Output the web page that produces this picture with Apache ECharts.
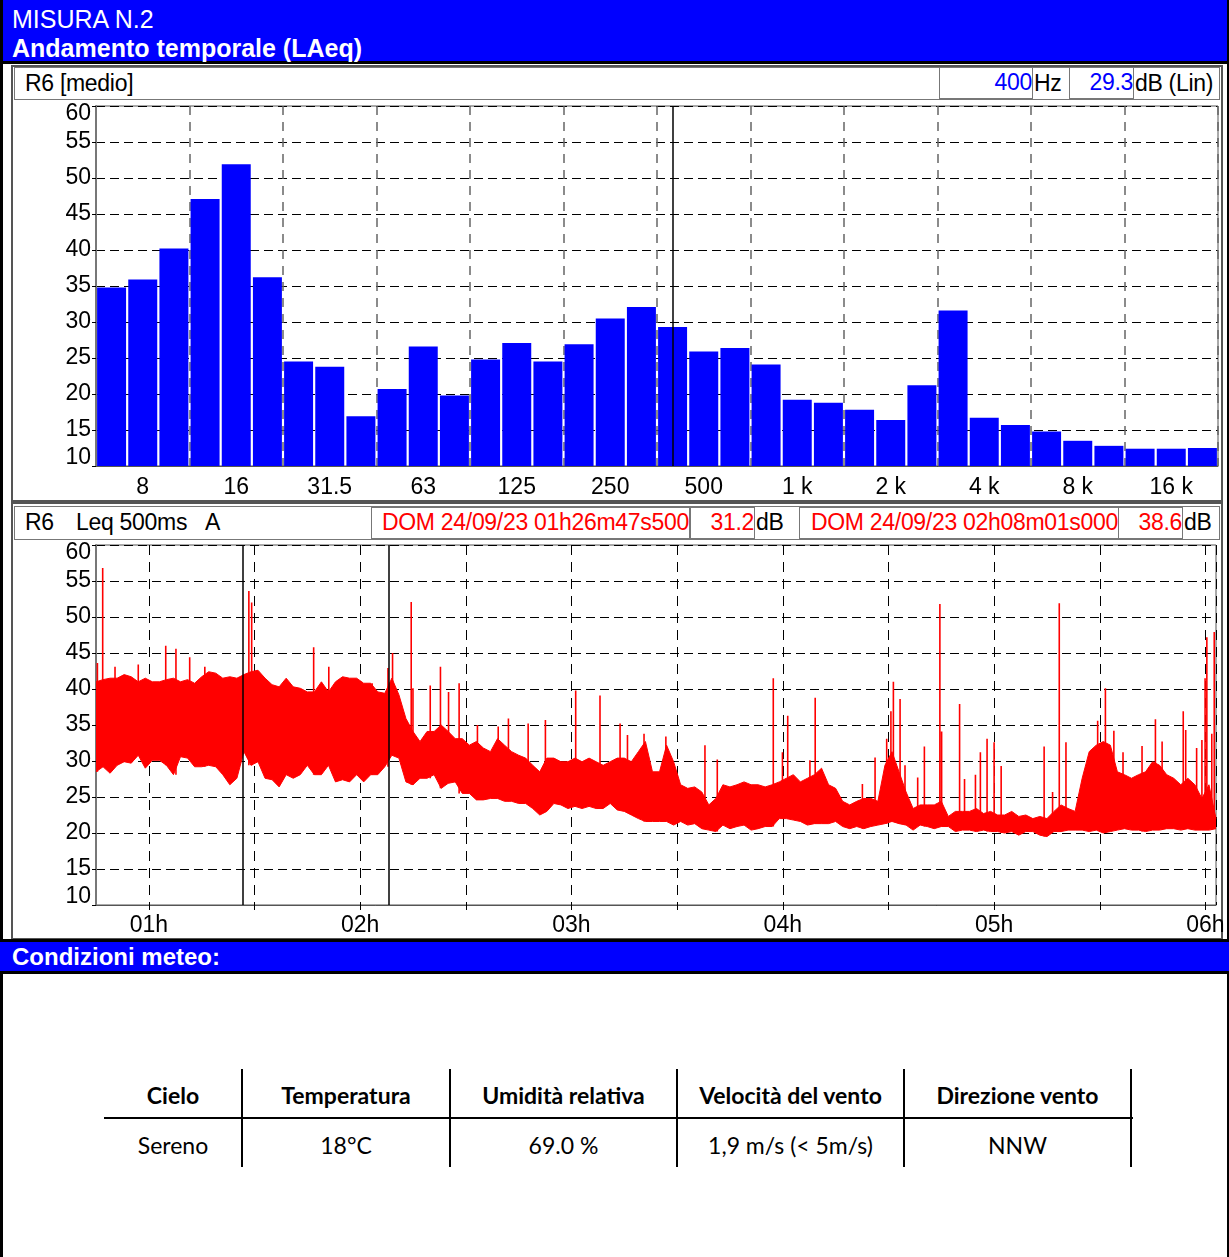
<!DOCTYPE html>
<html>
<head>
<meta charset="utf-8">
<title>MISURA N.2</title>
<script src="https://cdn.jsdelivr.net/npm/echarts@6/dist/echarts.min.js"></script>
<style>
  body { margin: 0; background: #fff; font-family: "Liberation Sans", Arial, sans-serif; }
  #page { position: relative; width: 1229px; height: 1257px; overflow: hidden; }
  .abs { position: absolute; box-sizing: border-box; }
  .txt { position: absolute; white-space: nowrap; font-size: 23px; line-height: 31px; letter-spacing: -0.3px; }
  .box { position: absolute; box-sizing: border-box; border: 1px solid #777; text-align: right;
         font-size: 23px; line-height: 29px; white-space: nowrap; letter-spacing: -0.3px; }
  .cell { position: absolute; text-align: center; font-family: Lato, "Open Sans", sans-serif; font-size: 23px; line-height: 30px; }
  #chart { position: absolute; left: 0; top: 0; width: 1229px; height: 1257px; }
</style>
</head>
<body>
<div id="page">
  <!-- cornice pagina e intestazione -->
  <div class="abs" style="left:0;top:0;width:1229px;height:61px;background:#0000FF"></div>
  <div class="abs" style="left:0;top:61px;width:1229px;height:3px;background:#000"></div>
  <div class="abs" style="left:0;top:0;width:3px;height:1257px;background:#000"></div>
  <div class="abs" style="left:1227px;top:0;width:2px;height:1257px;background:#000"></div>
  <div class="txt" style="left:12px;top:4px;color:#fff;font-size:25px;letter-spacing:0">MISURA N.2</div>
  <div class="txt" style="left:12px;top:33px;color:#fff;font-size:25px;font-weight:bold;letter-spacing:0">Andamento temporale (LAeq)</div>

  <!-- pannello spettro -->
  <div class="abs" style="left:11px;top:65px;width:1212px;height:437px;border:2px solid #555"></div>
  <div class="abs" style="left:14px;top:67px;width:1206px;height:33px;border:1px solid #777"></div>
  <div class="txt" style="left:25px;top:68px">R6 [medio]</div>
  <div class="box" style="left:939px;top:67px;width:94px;height:32px;color:#0000FF">400</div>
  <div class="txt" style="left:1034px;top:68px">Hz</div>
  <div class="box" style="left:1069px;top:67px;width:65px;height:32px;color:#0000FF">29.3</div>
  <div class="txt" style="left:1135px;top:68px">dB (Lin)</div>

  <!-- pannello andamento temporale -->
  <div class="abs" style="left:11px;top:502px;width:1212px;height:438px;border:2px solid #555"></div>
  <div class="abs" style="left:14px;top:506px;width:1206px;height:34px;border:1px solid #777"></div>
  <div class="txt" style="left:25px;top:507px">R6</div>
  <div class="txt" style="left:76px;top:507px">Leq 500ms</div>
  <div class="txt" style="left:205px;top:507px">A</div>
  <div class="box" style="left:371px;top:507px;width:319px;height:32px;color:#FF0000">DOM 24/09/23 01h26m47s500</div>
  <div class="box" style="left:690px;top:507px;width:65px;height:32px;color:#FF0000">31.2</div>
  <div class="txt" style="left:756px;top:507px">dB</div>
  <div class="box" style="left:799px;top:507px;width:320px;height:32px;color:#FF0000">DOM 24/09/23 02h08m01s000</div>
  <div class="box" style="left:1118px;top:507px;width:65px;height:32px;color:#FF0000">38.6</div>
  <div class="txt" style="left:1184px;top:507px">dB</div>

  <!-- condizioni meteo -->
  <div class="abs" style="left:0;top:939px;width:1229px;height:35px;background:#0000FF;border-top:3px solid #000;border-bottom:3px solid #000"></div>
  <div class="txt" style="left:12px;top:941px;color:#fff;font-size:24px;font-weight:bold;letter-spacing:0">Condizioni meteo:</div>

  <div class="abs" style="left:104px;top:1117px;width:1029px;height:2px;background:#000"></div>
  <div class="abs" style="left:241px;top:1069px;width:2px;height:98px;background:#000"></div>
  <div class="abs" style="left:449px;top:1069px;width:2px;height:98px;background:#000"></div>
  <div class="abs" style="left:676px;top:1069px;width:2px;height:98px;background:#000"></div>
  <div class="abs" style="left:903px;top:1069px;width:2px;height:98px;background:#000"></div>
  <div class="abs" style="left:1130px;top:1069px;width:2px;height:98px;background:#000"></div>
  <div id="meteo"></div>

  <div id="chart"></div>
</div>

<script>
  // --- spettro medio in terzi d'ottava ---
  const bandLabels = ['6.3', '8', '10', '12.5', '16', '20', '25', '31.5', '40', '50', '63', '80',
    '100', '125', '160', '200', '250', '315', '400', '500', '630', '800', '1 k', '1.25 k',
    '1.6 k', '2 k', '2.5 k', '3.15 k', '4 k', '5 k', '6.3 k', '8 k', '10 k', '12.5 k', '16 k', '20 k'];
  const bandLevels = [34.8, 35.9, 40.2, 47.1, 51.9, 36.2, 24.5, 23.8, 16.9, 20.7, 26.6, 19.8,
    24.8, 27.1, 24.5, 26.9, 30.5, 32.1, 29.3, 25.9, 26.4, 24.1, 19.2, 18.8,
    17.8, 16.4, 21.2, 31.6, 16.7, 15.7, 14.8, 13.5, 12.8, 12.4, 12.4, 12.5];
  const cursorBand = '400';

  // --- Leq 500ms: inviluppo (max / min) ogni 2 minuti dalle 00:45 ---
  const startTime = new Date(2023, 8, 24, 0, 45, 0).getTime();
  const endMinute = 318;
  const stepMinutes = 2;
  const leqHigh = [
    41.0, 41.3, 41.5, 41.5, 42.0, 41.7, 41.0, 41.5, 41.0, 41.0,
    41.3, 41.5, 41.0, 41.3, 40.8, 41.7, 42.4, 42.2, 41.5, 41.7,
    41.5, 42.0, 42.4, 42.6, 41.5, 40.6, 40.3, 41.5, 40.3, 40.1,
    39.6, 39.6, 41.0, 39.6, 41.0, 41.7, 41.5, 41.5, 40.8, 40.8,
    39.6, 39.4, 41.5, 39.2, 35.9, 34.1, 32.7, 34.1, 34.1, 35.0,
    34.1, 33.1, 33.1, 32.2, 32.7, 31.8, 31.3, 33.1, 32.2, 31.3,
    30.8, 30.4, 29.4, 28.5, 30.4, 30.4, 29.9, 29.9, 30.4, 29.9,
    30.4, 29.9, 29.4, 29.9, 30.4, 30.4, 29.9, 31.3, 32.7, 28.5,
    28.5, 32.2, 29.9, 26.7, 26.2, 26.4, 25.7, 23.9, 24.8, 26.7,
    26.4, 26.7, 27.1, 26.7, 26.7, 26.4, 26.7, 27.1, 27.6, 28.1,
    27.1, 27.6, 28.1, 29.0, 26.7, 26.2, 24.4, 23.9, 24.4, 24.8,
    24.8, 24.4, 29.4, 31.3, 28.5, 25.7, 23.4, 23.9, 23.9, 23.9,
    24.4, 22.3, 23.0, 23.0, 23.0, 23.4, 22.7, 23.0, 22.5, 22.5,
    23.0, 22.3, 22.5, 22.0, 22.3, 22.0, 23.0, 23.9, 23.4, 23.0,
    27.6, 31.3, 32.2, 32.7, 32.2, 28.5, 28.1, 27.6, 28.1, 28.5,
    29.9, 29.4, 28.1, 27.6, 26.7, 27.6, 26.7, 24.8, 26.7, 22.0
  ];
  const leqLow = [
    28.5, 29.2, 28.3, 29.4, 29.9, 29.7, 30.8, 29.0, 30.1, 30.1,
    29.4, 28.1, 30.6, 30.4, 29.2, 29.2, 29.4, 29.2, 28.1, 26.7,
    27.6, 31.3, 29.4, 29.9, 27.6, 27.4, 26.4, 28.1, 27.6, 28.1,
    29.4, 28.1, 28.1, 29.4, 27.1, 27.4, 27.1, 28.1, 27.1, 28.1,
    28.1, 29.2, 30.8, 30.4, 27.1, 26.7, 27.6, 27.6, 28.1, 26.2,
    26.9, 27.1, 25.5, 25.5, 24.6, 24.6, 24.8, 24.8, 24.4, 24.4,
    24.1, 24.1, 23.4, 22.5, 23.0, 24.1, 23.9, 23.4, 23.7, 23.4,
    23.7, 23.4, 23.4, 24.1, 23.2, 23.0, 22.5, 22.0, 21.6, 21.6,
    21.6, 21.6, 21.1, 21.6, 21.1, 21.3, 20.6, 20.4, 20.2, 21.1,
    20.6, 20.9, 21.1, 20.4, 20.6, 20.9, 20.9, 22.0, 22.0, 21.8,
    21.6, 21.1, 21.3, 21.3, 21.3, 21.6, 20.9, 20.6, 20.9, 20.6,
    20.9, 21.1, 21.3, 21.6, 21.3, 21.1, 20.4, 21.1, 20.9, 20.6,
    20.9, 20.9, 20.2, 20.4, 20.4, 20.2, 20.4, 20.2, 20.2, 20.0,
    20.2, 19.7, 20.2, 20.2, 19.7, 19.5, 20.2, 20.2, 20.4, 20.4,
    20.4, 20.2, 20.4, 20.0, 20.2, 20.4, 20.6, 20.4, 20.4, 20.2,
    20.4, 20.4, 20.6, 20.6, 20.4, 20.6, 20.4, 20.4, 20.4, 20.6
  ];
  // picchi isolati: minuto dalle 00:45 e livello massimo
  const spikeMinute = [0.4, 1.9, 5.4, 12.0, 19.8, 22.7, 26.6, 30.9, 43.4, 44.2, 61.8, 66.1, 78.4,
    82.9, 84.2, 89.5, 90.0, 94.9, 97.8, 100.1, 103.1, 108.3, 114.2, 117.1, 122.7, 127.6,
    136.2, 143.1, 148.8, 150.9, 155.6, 161.8, 172.9, 176.4, 192.3, 194.9, 196.4, 202.7,
    204.2, 217.6, 221.2, 224.5, 225.7, 226.4, 228.3, 229.7, 233.3, 235.2, 239.6, 240.1,
    245.2, 246.6, 249.7, 251.1, 253.0, 255.0, 257.0, 269.2, 271.6, 273.5, 275.4, 284.4,
    286.6, 289.0, 291.6, 297.0, 300.8, 302.7, 308.7, 309.4, 312.5, 314.0, 314.9, 315.4,
    316.8, 317.5];
  const spikePeak = [43.6, 56.8, 43.1, 43.4, 46.0, 45.6, 44.4, 43.1, 53.6, 52.0, 45.8, 43.1, 40.8,
    42.9, 45.0, 52.1, 40.1, 40.5, 43.1, 39.6, 40.8, 35.0, 34.8, 35.9, 35.2, 35.7,
    39.8, 39.1, 35.2, 33.6, 33.8, 33.4, 32.2, 30.2, 41.5, 31.2, 36.3, 30.1,
    38.8, 26.8, 30.5, 33.1, 36.9, 41.0, 38.6, 29.4, 27.7, 32.0, 51.8, 34.1,
    37.9, 27.5, 28.1, 31.2, 33.1, 32.6, 29.3, 32.0, 25.7, 51.9, 32.6, 35.6,
    40.1, 34.2, 31.2, 32.1, 35.8, 32.7, 36.9, 34.3, 31.8, 32.9, 41.5, 47.2,
    33.8, 47.9];
  // cursori
  const cursorTimes = [new Date(2023, 8, 24, 1, 26, 47, 500).getTime(), new Date(2023, 8, 24, 2, 8, 1, 0).getTime()];

  // --- condizioni meteo ---
  const meteoHeaders = ['Cielo', 'Temperatura', 'Umidità relativa', 'Velocità del vento', 'Direzione vento'];
  const meteoValues = ['Sereno', '18°C', '69.0 %', '1,9 m/s (< 5m/s)', 'NNW'];
  const meteoCols = [104, 242, 450, 677, 904, 1131];

  let meteoHtml = '';
  meteoHeaders.forEach((h, i) => {
    const l = meteoCols[i], w = meteoCols[i + 1] - meteoCols[i];
    meteoHtml += '<div class="cell" style="left:' + l + 'px;width:' + w + 'px;top:1080px;font-weight:bold">' + h + '</div>';
    meteoHtml += '<div class="cell" style="left:' + l + 'px;width:' + w + 'px;top:1130px">' + meteoValues[i] + '</div>';
  });
  document.getElementById('meteo').innerHTML = meteoHtml;

  // dati per il grafico
  const bandLowData = leqLow.map((v, i) => [startTime + i * stepMinutes * 60000, v]);
  const bandSpanData = leqHigh.map((v, i) => [startTime + i * stepMinutes * 60000, +(v - leqLow[i]).toFixed(1)]);
  const spikeData = [];
  spikeMinute.forEach((m, i) => {
    const t = startTime + m * 60000;
    const k = Math.min(leqLow.length - 1, Math.round(m / stepMinutes));
    spikeData.push([t, leqLow[k]], [t, spikePeak[i]], [t, '-']);
  });

  const AX_FONT = {fontFamily: '"Liberation Sans", Arial, sans-serif', fontSize: 23, color: '#000'};
  const yLabel = {
    ...AX_FONT,
    margin: 5,
    formatter: v => v === 60 ? '{t|60}' : (v === 10 ? '{b|10}' : String(v)),
    rich: {
      t: {...AX_FONT, padding: [16, 0, 0, 0]},
      b: {...AX_FONT, padding: [0, 0, 16, 0]}
    }
  };
  const yAxisBase = {
    type: 'value', min: 10, max: 60, interval: 5,
    axisLine: {show: true, lineStyle: {color: '#777', width: 2}},
    axisTick: {show: true, length: 4, lineStyle: {color: '#000'}},
    axisLabel: yLabel,
    splitLine: {show: true, lineStyle: {color: '#000', width: 1, type: [9, 5]}}
  };

  const myChart = echarts.init(document.getElementById('chart'));
  const option = {
    animation: false,
    grid: [
      {left: 96, top: 106, width: 1122, height: 360, show: true, borderColor: '#555', borderWidth: 1},
      {left: 96, top: 545, width: 1120, height: 360, show: true, borderColor: '#555', borderWidth: 1}
    ],
    xAxis: [
      {
        type: 'category', gridIndex: 0, data: bandLabels,
        axisLine: {lineStyle: {color: '#555'}},
        axisTick: {alignWithLabel: true, length: 5, interval: i => i % 3 === 1, lineStyle: {color: '#000'}},
        axisLabel: {...AX_FONT, margin: 10, interval: i => i % 3 === 1},
        splitLine: {show: true, interval: i => i > 0 && i % 3 === 0, lineStyle: {color: '#666', width: 1.5, type: [9, 7]}}
      },
      {
        type: 'time', gridIndex: 1,
        min: startTime, max: startTime + endMinute * 60000,
        // passo di 30 minuti fra le linee verticali
        minInterval: 31 * 60000, maxInterval: 45 * 60000, splitNumber: 10,
        axisLine: {lineStyle: {color: '#555'}},
        axisTick: {length: 5, lineStyle: {color: '#000'}},
        axisLabel: {
          ...AX_FONT, margin: 9, interval: 0, showMinLabel: false, showMaxLabel: false,
          formatter: v => {
            const d = new Date(v);
            if (d.getMinutes() !== 0 || d.getSeconds() !== 0) return '';
            return String(d.getHours()).padStart(2, '0') + 'h';
          }
        },
        splitLine: {show: true, lineStyle: {color: '#000', width: 1, type: [10, 7]}}
      }
    ],
    yAxis: [
      {...yAxisBase, gridIndex: 0},
      {...yAxisBase, gridIndex: 1}
    ],
    series: [
      {
        name: 'R6 [medio]', type: 'bar', xAxisIndex: 0, yAxisIndex: 0,
        data: bandLevels, barCategoryGap: '7%',
        itemStyle: {color: '#0000FF'},
        markLine: {
          silent: true, symbol: 'none', label: {show: false},
          lineStyle: {color: '#000', width: 1.5, type: 'solid'},
          data: [{xAxis: cursorBand}]
        }
      },
      {
        name: 'min', type: 'line', xAxisIndex: 1, yAxisIndex: 1, stack: 'leq',
        data: bandLowData, symbol: 'none',
        lineStyle: {color: '#FF0000', width: 1}
      },
      {
        name: 'Leq 500ms', type: 'line', xAxisIndex: 1, yAxisIndex: 1, stack: 'leq',
        data: bandSpanData, symbol: 'none',
        lineStyle: {color: '#FF0000', width: 1},
        areaStyle: {color: '#FF0000', opacity: 1},
        markLine: {
          silent: true, symbol: 'none', label: {show: false},
          lineStyle: {color: '#000', width: 1.5, type: 'solid'},
          data: cursorTimes.map(t => ({xAxis: t}))
        }
      },
      {
        name: 'picchi', type: 'line', xAxisIndex: 1, yAxisIndex: 1,
        data: spikeData, symbol: 'none', connectNulls: false,
        lineStyle: {color: '#FF0000', width: 1.6}
      }
    ]
  };
  // 使用刚指定的配置项和数据显示图表。
  myChart.setOption(option);
</script>
</body>
</html>
